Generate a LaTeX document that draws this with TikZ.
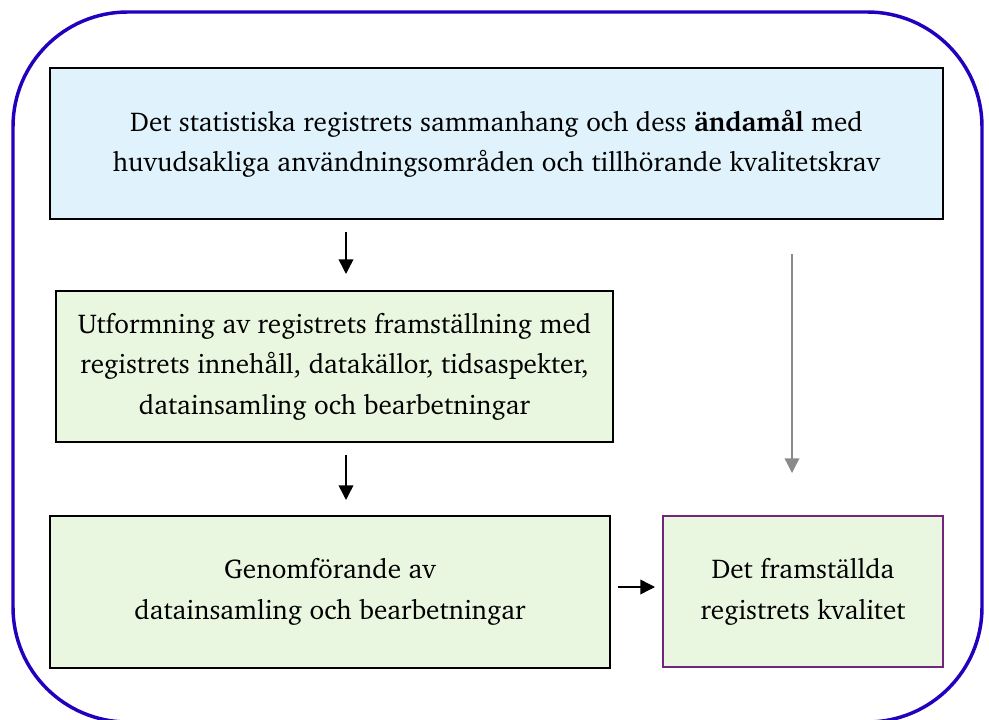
\documentclass[tikz,border=0pt]{standalone}
\usepackage[T1]{fontenc}
\usepackage{charter}
\usetikzlibrary{arrows.meta}
\definecolor{outerblue}{HTML}{2200BE}
\definecolor{lblue}{HTML}{E0F2FC}
\definecolor{lgreen}{HTML}{EAF7E0}
\definecolor{purp}{HTML}{74247F}
\definecolor{arrgrey}{HTML}{8A8A8A}
\begin{document}
\begin{tikzpicture}[x=0.75pt,y=-0.75pt,
  boxbase/.style={line width=1.6pt, inner sep=0pt, align=center,
    font=\fontsize{20.4}{30.5}\selectfont},
  arr/.style={line width=1.1pt, -{Triangle[length=11pt,width=11pt]}},
  greyarr/.style={arrgrey, line width=1pt, -{Triangle[length=11pt,width=11pt]}}]
\useasboundingbox (0,0) rectangle (989,720);
\draw[outerblue, line width=2.6pt, rounded corners=86pt] (13,12) rectangle (982,722);
\node[boxbase, draw=black, fill=lblue, minimum width=669.75pt, minimum height=113.25pt]
  (top) at (496.5,143.5) {Det statistiska registrets sammanhang och dess \textbf{ändamål} med\\huvudsakliga användningsområden och tillhörande kvalitetskrav};
\node[boxbase, draw=black, fill=lgreen, minimum width=417.75pt, minimum height=113.25pt]
  (b2) at (334.5,366.5) {Utformning av registrets framställning med\\registrets innehåll, datakällor, tidsaspekter,\\datainsamling och bearbetningar};
\node[boxbase, draw=black, fill=lgreen, minimum width=420pt, minimum height=114pt]
  (b3) at (330,592) {Genomförande av\\datainsamling och bearbetningar};
\node[boxbase, draw=purp, fill=lgreen, minimum width=210pt, minimum height=113.25pt]
  (b4) at (803,591.5) {Det framställda\\registrets kvalitet};
\coordinate (a1s) at (346,232);
\coordinate (a1e) at (346,274);
\coordinate (a2s) at (346,455);
\coordinate (a2e) at (346,500);
\coordinate (a3s) at (618,587);
\coordinate (a3e) at (655,587);
\coordinate (gs) at (792,254);
\coordinate (ge) at (792,473);
\draw[arr] (a1s) -- (a1e);
\draw[arr] (a2s) -- (a2e);
\draw[arr] (a3s) -- (a3e);
\draw[greyarr] (gs) -- (ge);
\end{tikzpicture}
\end{document}
